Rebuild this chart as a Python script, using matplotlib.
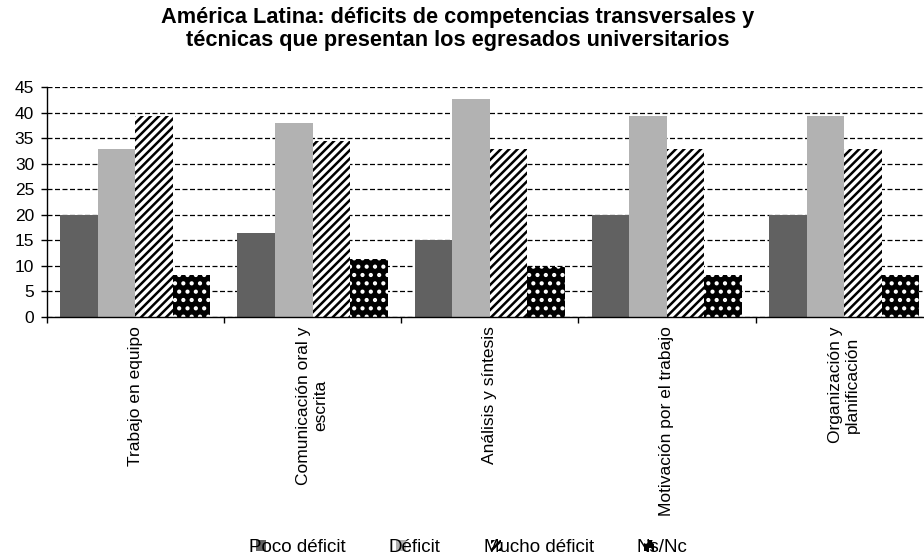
import matplotlib
matplotlib.use("Agg")
import matplotlib.pyplot as plt
import numpy as np

plt.rcParams['font.family'] = ['Liberation Sans', 'DejaVu Sans']
plt.rcParams['hatch.linewidth'] = 1.8

categories = [
    "Trabajo en equipo",
    "Comunicación oral y\nescrita",
    "Análisis y síntesis",
    "Motivación por el trabajo",
    "Organización y\nplanificación",
]
series_names = ["Poco déficit", "Déficit", "Mucho déficit", "Ns/Nc"]
poco_deficit = [20.0, 16.4, 15.0, 20.0, 20.0]
deficit = [32.9, 37.9, 42.8, 39.4, 39.4]
mucho_deficit = [39.4, 34.5, 32.8, 32.8, 32.9]
ns_nc = [8.1, 11.4, 9.8, 8.2, 8.2]
y_ticks = [0, 5, 10, 15, 20, 25, 30, 35, 40, 45]

title = ("América Latina: déficits de competencias transversales y\n"
         "técnicas que presentan los egresados universitarios")

fig = plt.figure(figsize=(9.24, 5.6), dpi=100)
ax = fig.add_axes([46.7 / 924, 1 - 316.7 / 560, 886 / 924, 229.4 / 560])

x = np.arange(len(categories))
w = 0.2117
styles = [
    dict(color="#616161", linewidth=0),
    dict(color="#b2b2b2", linewidth=0),
    dict(facecolor="white", edgecolor="black", hatch="////", linewidth=0),
    dict(facecolor="black", edgecolor="white", hatch="..", linewidth=0),
]
handles = []
for k, (vals, name, st) in enumerate(zip(
        [poco_deficit, deficit, mucho_deficit, ns_nc], series_names, styles)):
    b = ax.bar(x + (k - 1.5) * w, vals, width=w, label=name, zorder=2, **st)
    handles.append(b)

ax.set_xlim(-0.5, len(categories) - 0.5)
ax.set_ylim(0, 45)
ax.set_yticks(y_ticks)
ax.set_axisbelow(True)
ax.yaxis.grid(True, linestyle=(0, (4, 2)), color="black", linewidth=0.9)

ax.spines['top'].set_visible(False)
ax.spines['right'].set_visible(False)
ax.spines['left'].set_linewidth(1.0)
ax.spines['bottom'].set_linewidth(1.0)

ax.set_xticks(x)
ax.set_xticklabels(categories, rotation=90, ha="center", va="top",
                   fontsize=12.5, multialignment="center")
ax.set_xticks(np.arange(-0.5, len(categories)), minor=True)
ax.tick_params(axis="x", which="major", length=0, pad=7)
ax.tick_params(axis="x", which="minor", length=4, direction="out", width=1)
ax.tick_params(axis="y", length=4, direction="out", width=1, labelsize=12.5, pad=5)

fig.text(458 / 924, 1 - 7 / 560, title, ha="center", va="top",
         fontsize=15.7, fontweight="bold", linespacing=1.1)

fs = 13.5
fs_px = fs * 100 / 72
fig.legend(handles=handles, labels=series_names, loc="center",
           bbox_to_anchor=(472 / 924, 1 - 548 / 560), ncol=4, frameon=False,
           fontsize=fs, handlelength=10 / fs_px, handleheight=10 / fs_px,
           handletextpad=-(17 / fs_px), columnspacing=50 / fs_px,
           borderpad=0, borderaxespad=0)

fig.savefig("out.png", dpi=100)
